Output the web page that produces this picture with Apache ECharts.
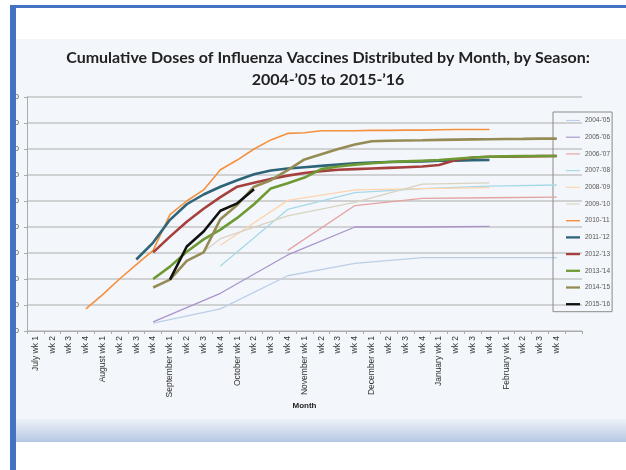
<!DOCTYPE html>
<html>
<head>
<meta charset="utf-8">
<script src="https://cdn.jsdelivr.net/npm/echarts@6/dist/echarts.min.js"></script>
<style>
html,body{margin:0;padding:0;background:#fff;}
#wrap{position:relative;width:626px;height:470px;overflow:hidden;background:#fff;}
#panel{position:absolute;left:16px;top:39px;width:610px;height:380px;background:#f3f6fa;}
#band{position:absolute;left:16px;top:419px;width:610px;height:23px;background:linear-gradient(#eef2f8,#b5c8e2);}
#chart{position:absolute;left:0;top:0;width:626px;height:470px;}
#cover{position:absolute;left:0;top:0;width:10px;height:470px;background:#fff;}
#bl{position:absolute;left:10px;top:5px;width:6px;height:465px;background:#4472c4;}
#bt{position:absolute;left:10px;top:5px;width:616px;height:3px;background:#4472c4;}
</style>
</head>
<body>
<div id="wrap">
<div id="panel"></div>
<div id="band"></div>
<div id="chart"></div>
<div id="cover"></div>
<div id="bl"></div>
<div id="bt"></div>
</div>
<script>
const _ = null;
const categories = ['July wk 1','wk 2','wk 3','wk 4','August wk 1','wk 2','wk 3','wk 4','September wk 1','wk 2','wk 3','wk 4','October wk 1','wk 2','wk 3','wk 4','November wk 1','wk 2','wk 3','wk 4','December wk 1','wk 2','wk 3','wk 4','January wk 1','wk 2','wk 3','wk 4','February wk 1','wk 2','wk 3','wk 4',''];
const seasonNames = ["2004-'05","2005-'06","2006-'07","2007-'08","2008-'09","2009-'10","2010-'11","2011-'12","2012-'13","2013-'14","2014-'15","2015-'16"];
const yTicks = [0,20,40,60,80,100,120,140,160,180];
//                 0 1 2 3 4 5 6 7    8 9 10 11    12 13 14 15    16 17 18 19    20 21 22 23     24 25 26 27     28 29 30 31    32
const s0405 = [_,_,_,_,_,_,_,6,   _,_,_,17,    _,_,_,42.5,    _,_,_,52,      _,_,_,56.5,     _,_,_,56.5,     _,_,_,56.5,    _];
const s0506 = [_,_,_,_,_,_,_,7,   _,_,_,29,    _,_,_,58.5,    _,_,_,80,      _,_,_,80,       _,_,_,80.5,     _,_,_,_,       _];
const s0607 = [_,_,_,_,_,_,_,_,   _,_,_,_,     _,_,_,62,      _,_,_,96.5,    _,_,_,102,      _,_,_,102.5,    _,_,_,103,     _];
const s0708 = [_,_,_,_,_,_,_,_,   _,_,_,50,    _,_,_,93.5,    _,_,_,106.5,   _,_,_,109.5,    _,_,_,111.5,    _,_,_,112.3,   _];
const s0809 = [_,_,_,_,_,_,_,_,   _,_,_,66,    _,_,_,100.5,   _,_,_,108.5,   _,_,_,109.5,    _,_,_,110.3,    _,_,_,_,       _];
const s0910 = [_,_,_,_,_,_,_,_,   _,_,61,71,   _,_,_,88.5,    _,_,_,99,      _,_,_,113,      _,_,_,114,      _,_,_,_,       _];
const s1011 = [_,_,_,17,28,40,51,62, 89.5,100,108.5,124, 131.5,140,147,152, 152.5,154,154,154, 154.3,154.3,154.5,154.5, 154.8,155,155,155, _,_,_,_, _];
const s1112 = [_,_,_,_,_,_,55,68, 85.5,97.5,105,111, 116,120.5,123.5,125, 126,127,128,129, 129.5,130,130.3,130.5, 131,131,131.3,131.5, _,_,_,_, _];
const s1213 = [_,_,_,_,_,_,_,60.5, 72.6,84,94,103, 111,114,117,119.5, 121.5,123,124,124.5, 125,125.5,126,126.5, 127.7,131.5,133.5,134, 134,134.2,134.5,134.6, _];
const s1314 = [_,_,_,_,_,_,_,40, 49.5,61,70.5,78, 87,97.5,109.7,113.6, 118,124.5,126.5,128, 129,130,130.5,131, 131.5,132.5,133.5,134, 134.3,134.5,134.6,134.6, _];
const s1415 = [_,_,_,_,_,_,_,33.5, 39.5,54,60.5,86, 97,111,116,123.8, 132,136,140,143.5, 146,146.3,146.5,146.7, 147,147.2,147.4,147.5, 147.7,147.8,148,148, _];
const s1516 = [_,_,_,_,_,_,_,_, 39.5,65,76.5,92.5, 98.2,109,_,_, _,_,_,_, _,_,_,_, _,_,_,_, _,_,_,_, _];

const seriesData = [s0405,s0506,s0607,s0708,s0809,s0910,s1011,s1112,s1213,s1314,s1415,s1516];
const colors = ['#bccfe9','#a994cc','#e4a3a1','#a6d9e8','#fcd4ae','#d8d4c1','#f4913f','#2e6478','#a5403d','#6e9a33','#958c55','#111111'];
const widths = [1.3,1.3,1.3,1.3,1.3,1.3,1.6,2.6,2.6,2.6,2.6,2.6];

const chart = echarts.init(document.getElementById('chart'), null, {renderer:'canvas'});
chart.setOption({
  animation:false,
  backgroundColor:'transparent',
  graphic:[
    {type:'text', x:328, y:58, style:{text:'Cumulative Doses of Influenza Vaccines Distributed by Month, by Season:', font:'bold 16px Lato', fill:'#222', textAlign:'center', textVerticalAlign:'middle'}},
    {type:'text', x:328, y:80, style:{text:'2004-\u201905 to 2015-\u201916', font:'bold 16px Lato', fill:'#222', textAlign:'center', textVerticalAlign:'middle'}}
  ],
  legend:{
    orient:'vertical', left:553, top:112,
    padding:[5,2,4,13], itemGap:9.7, itemWidth:14, itemHeight:8,
    borderColor:'#8a8a8a', borderWidth:1, backgroundColor:'transparent',
    textStyle:{fontSize:6.5, color:'#555', fontFamily:'Liberation Sans'},
    data:seasonNames.map((n,i)=>({name:n, icon:'path://M0,0H16V'+widths[i]+'H0Z'}))
  },
  grid:{left:27, right:44, top:97, bottom:139, containLabel:false, outerBoundsMode:'none'},
  xAxis:{
    type:'category', data:categories, boundaryGap:true,
    name:'Month', nameLocation:'middle', nameGap:68,
    nameTextStyle:{fontSize:8, fontWeight:'bold', color:'#222', fontFamily:'Liberation Sans'},
    axisLine:{lineStyle:{color:'#aaaaaa', width:1}},
    axisTick:{show:true, length:3, interval:0, lineStyle:{color:'#aaaaaa'}},
    axisLabel:{interval:0, rotate:90, fontSize:8.5, color:'#333', margin:5, fontFamily:'Liberation Sans'},
    splitLine:{show:false}
  },
  yAxis:{
    type:'value', min:0, max:180, interval:20,
    axisLine:{show:true, lineStyle:{color:'#aaaaaa'}},
    axisTick:{show:true, length:3, lineStyle:{color:'#aaaaaa'}},
    axisLabel:{fontSize:8, color:'#555', margin:8, fontFamily:'Liberation Sans'},
    splitLine:{lineStyle:{color:'#c4c4c4', width:1.5}}
  },
  series: seriesData.map((d,i)=>({
    name:seasonNames[i], type:'line', data:d, connectNulls:true,
    symbol:'none', smooth:false, color:colors[i],
    lineStyle:{color:colors[i], width:widths[i]},
    itemStyle:{color:colors[i]},
    z:2+i
  }))
});
</script>
</body>
</html>
